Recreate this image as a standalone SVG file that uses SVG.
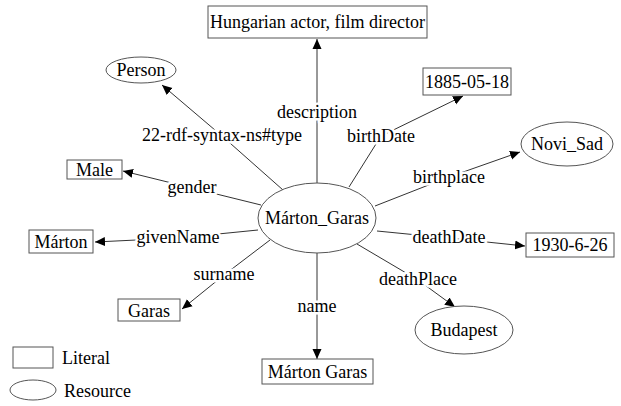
<svg xmlns="http://www.w3.org/2000/svg" width="621" height="406" viewBox="0 0 621 406">
<defs>
<marker id="arr" viewBox="0 0 10 10" refX="10" refY="5" markerWidth="10" markerHeight="10" markerUnits="userSpaceOnUse" orient="auto">
<path d="M0,0.5 L10,5 L0,9.5 Z" fill="#000"/>
</marker>
</defs>
<style>
text{font-family:"Liberation Serif","Times New Roman",serif;font-size:18px;fill:#000;text-anchor:middle}
.n rect,.n ellipse{fill:#fff;stroke:#555;stroke-width:1}
.e polyline{fill:none;stroke:#333;stroke-width:1;marker-end:url(#arr)}
.e text{stroke:#fff;stroke-width:5;paint-order:stroke;stroke-linejoin:round}
.lg{text-anchor:start}
</style>
<rect width="621" height="406" fill="#fff"/>
<g id="edges" class="e">
<polyline points="283,190 222,136 162,85"/>
<text x="222" y="141">22-rdf-syntax-ns#type</text>
<polyline points="317,183 317,113 317,39"/>
<text x="317" y="118">description</text>
<polyline points="349,187 381,136 463,96"/>
<text x="381" y="142">birthDate</text>
<polyline points="375,206 449,177 520,152"/>
<text x="449" y="183">birthplace</text>
<polyline points="377,231 448,238 525,246"/>
<text x="449" y="243">deathDate</text>
<polyline points="357,244 418,280 455,307"/>
<text x="418" y="285">deathPlace</text>
<polyline points="317,253 317,307 317,359"/>
<text x="317" y="312">name</text>
<polyline points="270,240 224,275 182,309"/>
<text x="224" y="280">surname</text>
<polyline points="258,230 178,238 95,242"/>
<text x="178" y="243">givenName</text>
<polyline points="261,205 192,188 123,171"/>
<text x="192" y="193">gender</text>
</g>
<g id="n_center" class="n"><ellipse cx="317" cy="218" rx="59" ry="35"/><text x="317" y="224">Márton_Garas</text></g>
<g id="n_desc" class="n"><rect x="208" y="6" width="219" height="32"/><text x="317.5" y="28">Hungarian actor, film director</text></g>
<g id="n_person" class="n"><ellipse cx="141" cy="70" rx="35" ry="13"/><text x="141" y="76">Person</text></g>
<g id="n_male" class="n"><rect x="67" y="160" width="55" height="19"/><text x="94.5" y="176">Male</text></g>
<g id="n_marton" class="n"><rect x="29" y="230" width="64" height="23"/><text x="61" y="248">Márton</text></g>
<g id="n_garas" class="n"><rect x="118" y="299" width="62" height="22"/><text x="149" y="317">Garas</text></g>
<g id="n_fullname" class="n"><rect x="262" y="359" width="111" height="25"/><text x="317.5" y="378">Márton Garas</text></g>
<g id="n_budapest" class="n"><ellipse cx="464" cy="330" rx="49" ry="24"/><text x="464" y="336">Budapest</text></g>
<g id="n_death" class="n"><rect x="526" y="233" width="88" height="24"/><text x="570" y="251">1930-6-26</text></g>
<g id="n_novisad" class="n"><ellipse cx="567" cy="144" rx="46" ry="22"/><text x="567" y="150">Novi_Sad</text></g>
<g id="n_birth" class="n"><rect x="423" y="68" width="88" height="27"/><text x="467" y="88">1885-05-18</text></g>
<g id="legend" class="n">
<rect x="13" y="347" width="40" height="21"/>
<text class="lg" x="62" y="364">Literal</text>
<ellipse cx="33" cy="390" rx="23" ry="10"/>
<text class="lg" x="64" y="397">Resource</text>
</g>
</svg>
